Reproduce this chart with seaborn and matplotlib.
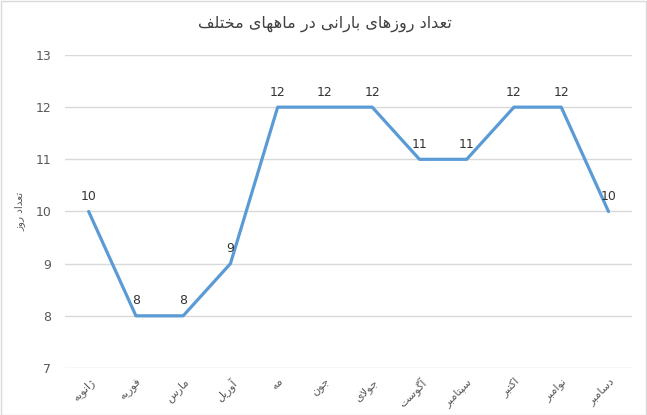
import numpy as np
import pandas as pd
import matplotlib
matplotlib.use('Agg')
import matplotlib.pyplot as plt
import seaborn as sns

title = 'تعداد روزهای بارانی در ماههای مختلف'
y_label = 'تعداد روز'
months = ['ژانویه', 'فوریه', 'مارس', 'آوریل', 'مه', 'جون',
          'جولای', 'آگوست', 'سپتامبر', 'اکتبر', 'نوامبر', 'دسامبر']
rainy_days = [10, 8, 8, 9, 12, 12, 12, 11, 11, 12, 12, 10]

# minimal Arabic/Persian shaping (matplotlib has no shaping engine)
FORMS = {
    'ا': ('\uFE8D', '\uFE8E', None, None),
    'آ': ('\uFE81', '\uFE82', None, None),
    'د': ('\uFEA9', '\uFEAA', None, None),
    'ر': ('\uFEAD', '\uFEAE', None, None),
    'ز': ('\uFEAF', '\uFEB0', None, None),
    'ژ': ('\uFB8A', '\uFB8B', None, None),
    'و': ('\uFEED', '\uFEEE', None, None),
    'ب': ('\uFE8F', '\uFE90', '\uFE91', '\uFE92'),
    'پ': ('\uFB56', '\uFB57', '\uFB58', '\uFB59'),
    'ت': ('\uFE95', '\uFE96', '\uFE97', '\uFE98'),
    'ج': ('\uFE9D', '\uFE9E', '\uFE9F', '\uFEA0'),
    'خ': ('\uFEA5', '\uFEA6', '\uFEA7', '\uFEA8'),
    'س': ('\uFEB1', '\uFEB2', '\uFEB3', '\uFEB4'),
    'ع': ('\uFEC9', '\uFECA', '\uFECB', '\uFECC'),
    'ف': ('\uFED1', '\uFED2', '\uFED3', '\uFED4'),
    'ک': ('\uFB8E', '\uFB8F', '\uFB90', '\uFB91'),
    'گ': ('\uFB92', '\uFB93', '\uFB94', '\uFB95'),
    'ل': ('\uFEDD', '\uFEDE', '\uFEDF', '\uFEE0'),
    'م': ('\uFEE1', '\uFEE2', '\uFEE3', '\uFEE4'),
    'ن': ('\uFEE5', '\uFEE6', '\uFEE7', '\uFEE8'),
    'ه': ('\uFEE9', '\uFEEA', '\uFEEB', '\uFEEC'),
    'ی': ('\uFBFC', '\uFBFD', '\uFBFE', '\uFBFF'),
}


def shape(word):
    out = []
    n = len(word)
    i = 0
    while i < n:
        ch = word[i]
        if ch not in FORMS:
            out.append(ch)
            i += 1
            continue
        prev = word[i - 1] if i > 0 else None
        joins_prev = prev in FORMS and FORMS[prev][2] is not None
        # lam-alef ligature
        if ch == 'ل' and i + 1 < n and word[i + 1] == 'ا':
            out.append('\uFEFC' if joins_prev else '\uFEFB')
            i += 2
            continue
        nxt = word[i + 1] if i + 1 < n else None
        can_next = FORMS[ch][2] is not None and nxt in FORMS
        iso, fin, ini, med = FORMS[ch]
        if joins_prev and can_next:
            out.append(med)
        elif joins_prev:
            out.append(fin)
        elif can_next:
            out.append(ini)
        else:
            out.append(iso)
        i += 1
    return ''.join(out)


def rtl(text):
    return ' '.join(shape(w)[::-1] for w in text.split(' ')[::-1])


df = pd.DataFrame({'month': [rtl(m) for m in months], 'days': rainy_days})

sns.set_theme(style='white')
plt.rcParams['font.family'] = ['DejaVu Sans']

fig = plt.figure(figsize=(6.47, 4.15), dpi=100)
ax = fig.add_axes([0.1005, 0.1133, 0.8765, 0.7542])

sns.lineplot(data=df, x='month', y='days', color='#5B9BD5', linewidth=2.3,
             ax=ax, sort=False)

ax.set_ylim(7, 13)
ax.set_xlim(-0.5, len(months) - 0.5)
ax.set_yticks(range(7, 14))
ax.grid(True, axis='y', color='#D9D9D9', linewidth=1)
for s in ax.spines.values():
    s.set_visible(False)
ax.tick_params(axis='both', length=0, colors='#595959', labelsize=9)
ax.tick_params(axis='y', pad=10)
ax.tick_params(axis='x', labelsize=8, pad=6)
plt.setp(ax.get_xticklabels(), rotation=45, ha='right', rotation_mode='anchor')
ax.set_xlabel('')
ax.set_ylabel(rtl(y_label), fontsize=7.5, color='#595959', labelpad=7)

for i, v in enumerate(rainy_days):
    ax.annotate(str(v), (i, v), xytext=(0, 6), textcoords='offset points',
                ha='center', va='bottom', fontsize=9, color='#333333')

fig.text(0.502, 0.943, rtl(title), ha='center', va='center', fontsize=11.5,
         color='#404040')

border = plt.Rectangle((0.001, 0.001), 0.997, 0.997, transform=fig.transFigure,
                       fill=False, edgecolor='#D9D9D9', linewidth=1)
fig.patches.append(border)

fig.savefig('out.png', dpi=100)
